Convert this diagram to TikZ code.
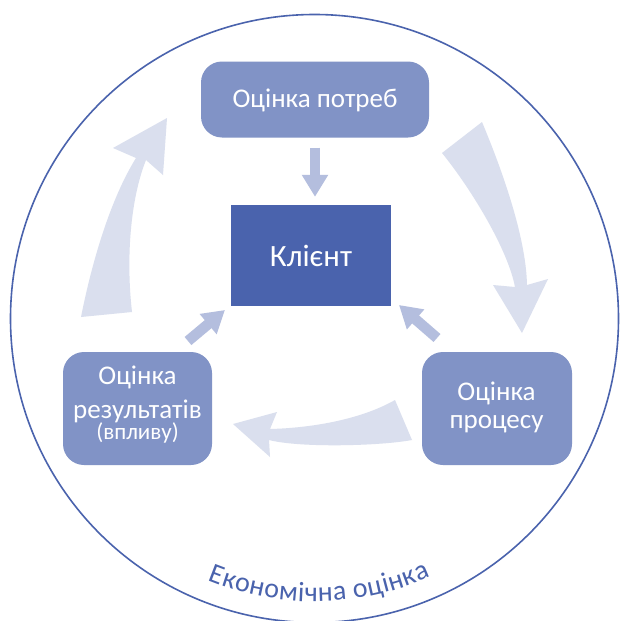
\documentclass[tikz,border=0pt]{standalone}
\usepackage{fontspec}
\setmainfont{Carlito}
\usetikzlibrary{arrows.meta,decorations.text}

\definecolor{stageblue}{HTML}{8193C6}
\definecolor{coreblue}{HTML}{4A63AD}
\definecolor{flowpale}{HTML}{DADFEE}
\definecolor{pointblue}{HTML}{B4BEDE}

\newcommand\stagefont{\fontsize{27}{32}\selectfont}
\newcommand\notefont{\fontsize{23}{27}\selectfont}
\newcommand\corefont{\fontsize{31}{37}\selectfont}
\newcommand\econfont{\fontsize{28}{32}\selectfont}

\begin{document}
\begin{tikzpicture}[x=1pt,y=1pt,
  stagebox/.style={fill=stageblue, draw=none, rounded corners=21pt, inner sep=0pt},
  corebox/.style={fill=coreblue, draw=none, inner sep=0pt},
  stagetext/.style={text=white, inner sep=0pt, anchor=base, font=\stagefont},
  notetext/.style={text=white, inner sep=0pt, anchor=base, font=\notefont},
  coretext/.style={text=white, inner sep=0pt, anchor=base, font=\corefont},
  pointarrow/.style={draw=pointblue, line width=10.5pt, -{Triangle[width=25pt,length=22pt]}},
  flowarrow/.style={fill=flowpale, draw=none}]

\useasboundingbox (0,0) rectangle (619,-621);
\fill[white] (0,0) rectangle (619,-621);

% outer ring: economic evaluation
\coordinate (ring) at (314.5,-318.5);
\draw[coreblue, line width=1.6pt] (ring) circle[radius=304];
\path[decorate, decoration={text along path, text align=fit to path, text color=coreblue,
      text={|\econfont|Економічна оцінка}}]
  ([shift={(247.8:283)}]ring) arc[start angle=247.8, end angle=294.2, radius=283];

% cycle arrows between the three stages
\fill[flowarrow] (442,-153) -- (482,-122)
  .. controls (500,-165) and (526,-235) .. (527,-285)
  -- (548,-279) -- (522,-333) -- (493,-285) -- (515,-287)
  .. controls (508,-250) and (472,-190) .. (442,-153) -- cycle;
\fill[flowarrow] (395,-400) -- (412,-440)
  .. controls (380,-446) and (300,-448) .. (269,-440)
  -- (270,-457) -- (233,-424) -- (277,-412) -- (270,-429)
  .. controls (310,-428) and (360,-420) .. (395,-400) -- cycle;
\fill[flowarrow] (81,-317)
  .. controls (92,-262) and (110,-200) .. (136,-158)
  -- (113,-148) -- (167,-118) -- (163,-175) -- (146,-160)
  .. controls (130,-200) and (126,-260) .. (132,-312) -- cycle;

% stages
\node[stagebox, minimum width=228pt, minimum height=76pt] (needs) at (315,-99.5) {};
\node[stagetext] (needs-t) at (315,-107) {Оцінка потреб};

\node[corebox, minimum width=160pt, minimum height=101pt] (client) at (311,-255.5) {};
\node[coretext] (client-t) at (311,-266) {Клієнт};

\node[stagebox, minimum width=149pt, minimum height=113pt] (results) at (137.5,-408.5) {};
\node[stagetext] (results-t1) at (137.5,-384) {Оцінка};
\node[stagetext] (results-t2) at (137.5,-418) {результатів};
\node[notetext] (results-t3) at (137.5,-439) {(впливу)};

\node[stagebox, minimum width=150pt, minimum height=113pt] (process) at (497,-408.5) {};
\node[stagetext] (process-t1) at (496.5,-400) {Оцінка};
\node[stagetext] (process-t2) at (496.5,-428) {процесу};

% arrows pointing to the client
\draw[pointarrow, shorten <=10pt] (needs.south) -- ([yshift=8pt]needs.south |- client.north);
\coordinate (rl-tail) at (188,-341);
\coordinate (rl-tip) at (225,-310);
\coordinate (rr-tail) at (437,-338);
\coordinate (rr-tip) at (399,-305);
\draw[pointarrow] (rl-tail) -- (rl-tip);
\draw[pointarrow] (rr-tail) -- (rr-tip);
\end{tikzpicture}
\end{document}
